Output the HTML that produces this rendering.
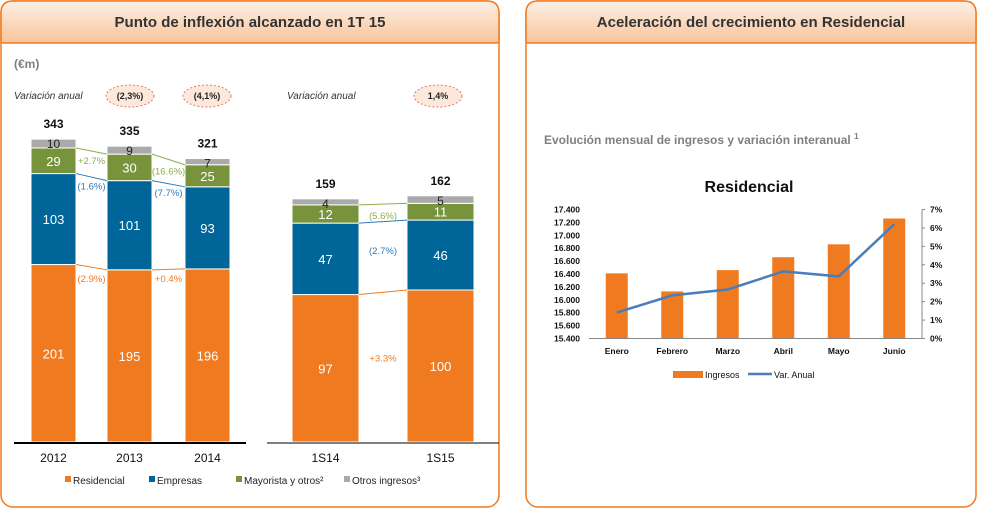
<!DOCTYPE html>
<html><head><meta charset="utf-8">
<style>
body{margin:0;width:981px;height:522px;background:#fff;font-family:"Liberation Sans",sans-serif;overflow:hidden}
svg{position:absolute;left:0;top:0}
</style></head>
<body>
<svg id="s" width="981" height="522">
<defs>
<linearGradient id="hg" x1="0" y1="0" x2="0" y2="1"><stop offset="0" stop-color="#fdf0e6"/><stop offset="1" stop-color="#f8c49a"/></linearGradient>
</defs>
<g>
<rect x="1" y="1" width="498" height="506" rx="12" fill="#fff" stroke="#f07a20" stroke-width="1.5"/>
<path d="M1,42 L1,13 Q1,1 13,1 L487,1 Q499,1 499,13 L499,42 Q499,43 496,43 L4,43 Q1,43 1,42Z" fill="url(#hg)" stroke="#f07a20" stroke-width="1.5"/>
<text x="250" y="27" text-anchor="middle" font-size="15" font-weight="bold" fill="#333">Punto de inflexión alcanzado en 1T 15</text>
<text x="14" y="68" font-size="12" font-weight="bold" fill="#7f7f7f">(€m)</text>
<text x="14" y="99" font-size="10" font-style="italic" fill="#333">Variación anual</text>
<text x="287" y="99" font-size="10" font-style="italic" fill="#333">Variación anual</text>
<ellipse cx="130" cy="96" rx="24" ry="11" fill="#fde8dc" stroke="#e8785a" stroke-dasharray="2,2"/>
<text x="130" y="99" text-anchor="middle" font-size="9" font-weight="bold" fill="#222">(2,3%)</text>
<ellipse cx="207" cy="96" rx="24" ry="11" fill="#fde8dc" stroke="#e8785a" stroke-dasharray="2,2"/>
<text x="207" y="99" text-anchor="middle" font-size="9" font-weight="bold" fill="#222">(4,1%)</text>
<ellipse cx="438" cy="96" rx="24" ry="11" fill="#fde8dc" stroke="#e8785a" stroke-dasharray="2,2"/>
<text x="438" y="99" text-anchor="middle" font-size="9" font-weight="bold" fill="#222">1,4%</text>
<g id="lc"></g>
<line x1="14" y1="443" x2="246" y2="443" stroke="#000" stroke-width="2"/>
<line x1="267" y1="443" x2="499" y2="443" stroke="#000" stroke-width="1"/>
<g font-size="10" fill="#222">
<rect x="65" y="476" width="6" height="6" fill="#f07a20"/><text x="73" y="484">Residencial</text>
<rect x="149" y="476" width="6" height="6" fill="#006699"/><text x="157" y="484">Empresas</text>
<rect x="236" y="476" width="6" height="6" fill="#77933c"/><text x="244" y="484">Mayorista y otros²</text>
<rect x="344" y="476" width="6" height="6" fill="#aaaaaa"/><text x="352" y="484">Otros ingresos³</text>
</g>
</g>
<g>
<rect x="526" y="1" width="450" height="506" rx="12" fill="#fff" stroke="#f07a20" stroke-width="1.5"/>
<path d="M526,42 L526,13 Q526,1 538,1 L964,1 Q976,1 976,13 L976,42 Q976,43 973,43 L529,43 Q526,43 526,42Z" fill="url(#hg)" stroke="#f07a20" stroke-width="1.5"/>
<text x="751" y="27" text-anchor="middle" font-size="15" font-weight="bold" fill="#333">Aceleración del crecimiento en Residencial</text>
<text x="544" y="144" font-size="12" font-weight="bold" fill="#7f7f7f">Evolución mensual de ingresos y variación interanual <tspan font-size="8" dy="-5">1</tspan></text>
<text x="749" y="192" text-anchor="middle" font-size="16" font-weight="bold" fill="#111">Residencial</text>
<g id="rc"></g>
<rect x="673" y="371" width="30" height="7" fill="#f07a20"/>
<text x="705" y="378" font-size="9" fill="#111">Ingresos</text>
<line x1="748" y1="374" x2="772" y2="374" stroke="#4a7ebb" stroke-width="2.5"/>
<text x="774" y="378" font-size="9" fill="#111">Var. Anual</text>
</g>
</svg>
<script>
// Left chart data
const years = ["2012","2013","2014"];
const residencial = [201,195,196];
const empresas = [103,101,93];
const mayorista = [29,30,25];
const otros = [10,9,7];
const totals = [343,335,321];
const varRes = ["(2.9%)","+0.4%"];
const varEmp = ["(1.6%)","(7.7%)"];
const varMay = ["+2.7%","(16.6%)"];
const halves = ["1S14","1S15"];
const hResidencial = [97,100];
const hEmpresas = [47,46];
const hMayorista = [12,11];
const hOtros = [4,5];
const hTotals = [159,162];
const hVarRes = ["+3.3%"];
const hVarEmp = ["(2.7%)"];
const hVarMay = ["(5.6%)"];
// Right chart data
const months = ["Enero","Febrero","Marzo","Abril","Mayo","Junio"];
const ingresos = [16410,16130,16460,16660,16860,17260];
const varAnual = [1.41,2.34,2.66,3.64,3.37,6.2];
const leftTicks = [15400,15600,15800,16000,16200,16400,16600,16800,17000,17200,17400];
const rightTicks = [0,1,2,3,4,5,6,7];

const NS="http://www.w3.org/2000/svg";
function el(tag,attrs,parent,txt){const e=document.createElementNS(NS,tag);for(const k in attrs)e.setAttribute(k,attrs[k]);if(txt!==undefined)e.textContent=txt;parent.appendChild(e);return e;}
const colors=["#f07a20","#006699","#77933c","#aaaaaa"];
const segNames=["residencial","empresas","mayorista","otros"];
const lineCols=["#f07a20","#2a7bbf","#8fad4a"];

function stacked(g,cats,series,tots,vars,xs,w,base,scale,offs){
  const tops=[];
  cats.forEach((c,i)=>{
    let y=base;const t=[];
    series.forEach((s,k)=>{
      const h=s[i]*scale;
      const r=el('rect',{x:xs[i],y:y-h,width:w,height:h,fill:colors[k],stroke:'#fff','stroke-width':1},g);
      
      
      const ty=k===3?y-h+9:y-h/2+5;
      const tx=el('text',{x:xs[i]+w/2,y:ty,'text-anchor':'middle','font-size':k===3?12:13,fill:k===3?'#222':'#fff'},g,String(s[i]));
      
      
      t.push(y-h);y-=h;
    });
    tops.push(t);
    const tt=el('text',{x:xs[i]+w/2,y:y-11,'text-anchor':'middle','font-size':12,'font-weight':'bold',fill:'#111'},g,String(tots[i]));
    
    
    const cl=el('text',{x:xs[i]+w/2,y:462,'text-anchor':'middle','font-size':12,fill:'#111'},g,c);
    
    
  });
  for(let i=0;i<cats.length-1;i++){
    for(let k=0;k<3;k++){
      const ln=el('line',{x1:xs[i]+w,y1:tops[i][k],x2:xs[i+1],y2:tops[i+1][k],stroke:lineCols[k],'stroke-width':1},g);
      
      
      const mid=(xs[i]+w+xs[i+1])/2;
      const ly=Math.max(tops[i][k],tops[i+1][k])+offs[k];
      const vt=el('text',{x:mid,y:ly,'text-anchor':'middle','font-size':9.5,fill:lineCols[k]},g,vars[k][i]);
      
      
    }
  }
}
const lc=document.getElementById('lc');
stacked(lc,years,[residencial,empresas,mayorista,otros],totals,[varRes,varEmp,varMay],[31,107,185],45,442,0.883,[12,9,10]);
stacked(lc,halves,[hResidencial,hEmpresas,hMayorista,hOtros],hTotals,[hVarRes,hVarEmp,hVarMay],[292,407],67,442,1.52,[67,31,14]);

// Right chart
const rc=document.getElementById('rc');
const x0=589,x1=922,yb=338.5,yt=209.5;
const band=(x1-x0)/months.length;
const xC=i=>x0+band*(i+0.5);
const yL=v=>yb-(v-15400)/2000*(yb-yt);
const yR=v=>yb-v/7*(yb-yt);
leftTicks.forEach(t=>{const e=el('text',{x:580,y:yL(t)+3,'text-anchor':'end','font-size':8.5,'font-weight':'bold',fill:'#111'},rc,t.toLocaleString('de-DE'));
});
rightTicks.forEach(t=>{el('line',{x1:x1,y1:yR(t),x2:x1+3,y2:yR(t),stroke:'#888'},rc);
const e=el('text',{x:x1+8,y:yR(t)+3,'font-size':8.5,'font-weight':'bold',fill:'#111'},rc,t+'%');
});
months.forEach((m,i)=>{
  const r=el('rect',{x:xC(i)-11,y:yL(ingresos[i]),width:22,height:yb-yL(ingresos[i]),fill:'#f07a20'},rc);
  
  
  const t=el('text',{x:xC(i),y:354,'text-anchor':'middle','font-size':8.5,'font-weight':'bold',fill:'#111'},rc,m);
  
  
});
const ax=el('line',{x1:x0,y1:yb,x2:x1,y2:yb,stroke:'#888'},rc);

const ay=el('line',{x1:x1,y1:yt,x2:x1,y2:yb,stroke:'#888'},rc);

const pl=el('polyline',{points:varAnual.map((v,i)=>xC(i)+','+yR(v)).join(' '),fill:'none',stroke:'#4a7ebb','stroke-width':2.5},rc);


</script>
</body></html>
